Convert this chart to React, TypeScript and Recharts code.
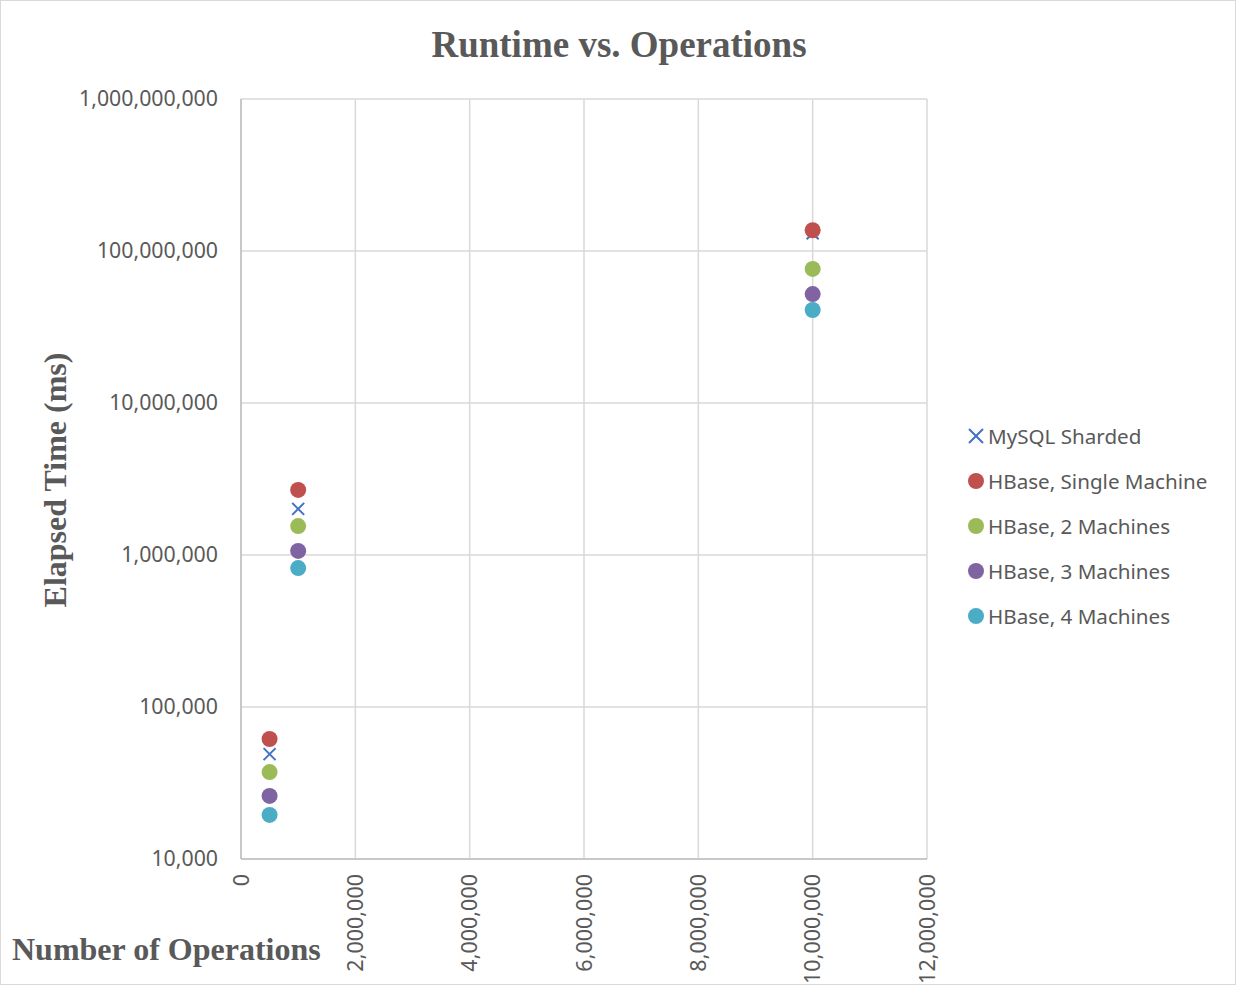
import React from 'react';
import { ScatterChart, Scatter, XAxis, YAxis, CartesianGrid } from 'recharts';

const operations = [500000, 1000000, 10000000];
const mysqlSharded = [49000, 2010000, 131000000];
const hbaseSingle = [61600, 2680000, 137000000];
const hbase2 = [37300, 1550000, 76200000];
const hbase3 = [26000, 1063000, 52100000];
const hbase4 = [19500, 820000, 40900000];

const xTicks = [0, 2000000, 4000000, 6000000, 8000000, 10000000, 12000000];
const yTicks = [10000, 100000, 1000000, 10000000, 100000000, 1000000000];

const seriesNames = ['MySQL Sharded', 'HBase, Single Machine', 'HBase, 2 Machines', 'HBase, 3 Machines', 'HBase, 4 Machines'];
const seriesColors = ['#4472C4', '#C0504D', '#9BBB59', '#8064A2', '#4BACC6'];
const seriesValues = [mysqlSharded, hbaseSingle, hbase2, hbase3, hbase4];

const toPoints = (vals: number[]) => operations.map((x, i) => ({ x, y: vals[i] }));

const FONT = '"Noto Sans", "Open Sans", sans-serif';
const SERIF = '"Liberation Serif", "DejaVu Serif", serif';
const TXT = '#595959';

const fmt = (v: number) => v.toLocaleString('en-US');

const Cross = (props: any) => {
  const { cx, cy, fill } = props;
  if (cx == null || cy == null) return null;
  const s = 6;
  return (
    <path
      d={`M${cx - s},${cy - s}L${cx + s},${cy + s}M${cx - s},${cy + s}L${cx + s},${cy - s}`}
      stroke={fill}
      strokeWidth={2}
      fill="none"
    />
  );
};

const Dot = (props: any) => {
  const { cx, cy, fill } = props;
  if (cx == null || cy == null) return null;
  return <circle cx={cx} cy={cy} r={8} fill={fill} />;
};

const XTick = (props: any) => {
  const { x, y, payload } = props;
  return (
    <text
      x={x}
      y={y + 7}
      transform={`rotate(-90, ${x}, ${y + 7})`}
      textAnchor="end"
      dy="0.35em"
      fill={TXT}
      fontSize={21.5}
      fontFamily={FONT}
    >
      {fmt(payload.value)}
    </text>
  );
};

const YTick = (props: any) => {
  const { y, payload } = props;
  return (
    <text x={218} y={y} textAnchor="end" dy="0.35em" fill={TXT} fontSize={21.3} fontFamily={FONT}>
      {fmt(payload.value)}
    </text>
  );
};

export default function App() {
  return (
    <div
      style={{
        position: 'absolute',
        left: 0,
        top: 0,
        width: 1236,
        height: 985,
        background: '#fff',
        border: '1px solid #d9d9d9',
        boxSizing: 'border-box',
      }}
    >
      <div style={{ position: 'absolute', left: -1, top: -1 }}>
        <ScatterChart width={1236} height={985} margin={{ top: 99, right: 309, bottom: 0, left: 0 }}>
          <CartesianGrid stroke="#d9d9d9" strokeWidth={1.5} horizontalValues={yTicks} verticalValues={xTicks} />
          <XAxis
            type="number"
            dataKey="x"
            domain={[0, 12000000]}
            ticks={xTicks}
            interval={0}
            height={126}
            tick={<XTick />}
            tickLine={false}
            axisLine={{ stroke: '#bfbfbf', strokeWidth: 1.5 }}
            allowDataOverflow
          />
          <YAxis
            type="number"
            dataKey="y"
            scale="log"
            domain={[10000, 1000000000]}
            ticks={yTicks}
            interval={0}
            width={241}
            tick={<YTick />}
            tickLine={false}
            axisLine={{ stroke: '#bfbfbf', strokeWidth: 1.5 }}
            allowDataOverflow
          />
          {seriesValues.map((vals, i) => (
            <Scatter
              key={seriesNames[i]}
              name={seriesNames[i]}
              data={toPoints(vals)}
              fill={seriesColors[i]}
              shape={i === 0 ? <Cross /> : <Dot />}
              isAnimationActive={false}
            />
          ))}
        </ScatterChart>
      </div>
      <div
        style={{
          position: 'absolute',
          left: 0,
          width: 1236,
          top: 22,
          textAlign: 'center',
          fontFamily: SERIF,
          fontWeight: 'bold',
          fontSize: 37,
          color: TXT,
          lineHeight: '44px',
        }}
      >
        Runtime vs. Operations
      </div>
      <div
        style={{
          position: 'absolute',
          left: 54,
          top: 479,
          transform: 'translate(-50%, -50%) rotate(-90deg)',
          whiteSpace: 'nowrap',
          fontFamily: SERIF,
          fontWeight: 'bold',
          fontSize: 32,
          color: TXT,
          lineHeight: '36px',
        }}
      >
        Elapsed Time (ms)
      </div>
      <div
        style={{
          position: 'absolute',
          left: 11,
          top: 929,
          whiteSpace: 'nowrap',
          fontFamily: SERIF,
          fontWeight: 'bold',
          fontSize: 32,
          color: TXT,
          lineHeight: '38px',
        }}
      >
        Number of Operations
      </div>
      <div style={{ position: 'absolute', left: 965, top: 412 }}>
        {seriesNames.map((name, i) => (
          <div
            key={name}
            style={{ display: 'flex', alignItems: 'center', height: 45, fontFamily: FONT, fontSize: 20.6, color: TXT }}
          >
            <svg width={20} height={20} style={{ marginRight: 2 }}>
              {i === 0 ? (
                <path d="M3,3L17,17M3,17L17,3" stroke={seriesColors[i]} strokeWidth={2} fill="none" />
              ) : (
                <circle cx={10} cy={10} r={8} fill={seriesColors[i]} />
              )}
            </svg>
            <span style={{ whiteSpace: 'nowrap' }}>{name}</span>
          </div>
        ))}
      </div>
    </div>
  );
}
